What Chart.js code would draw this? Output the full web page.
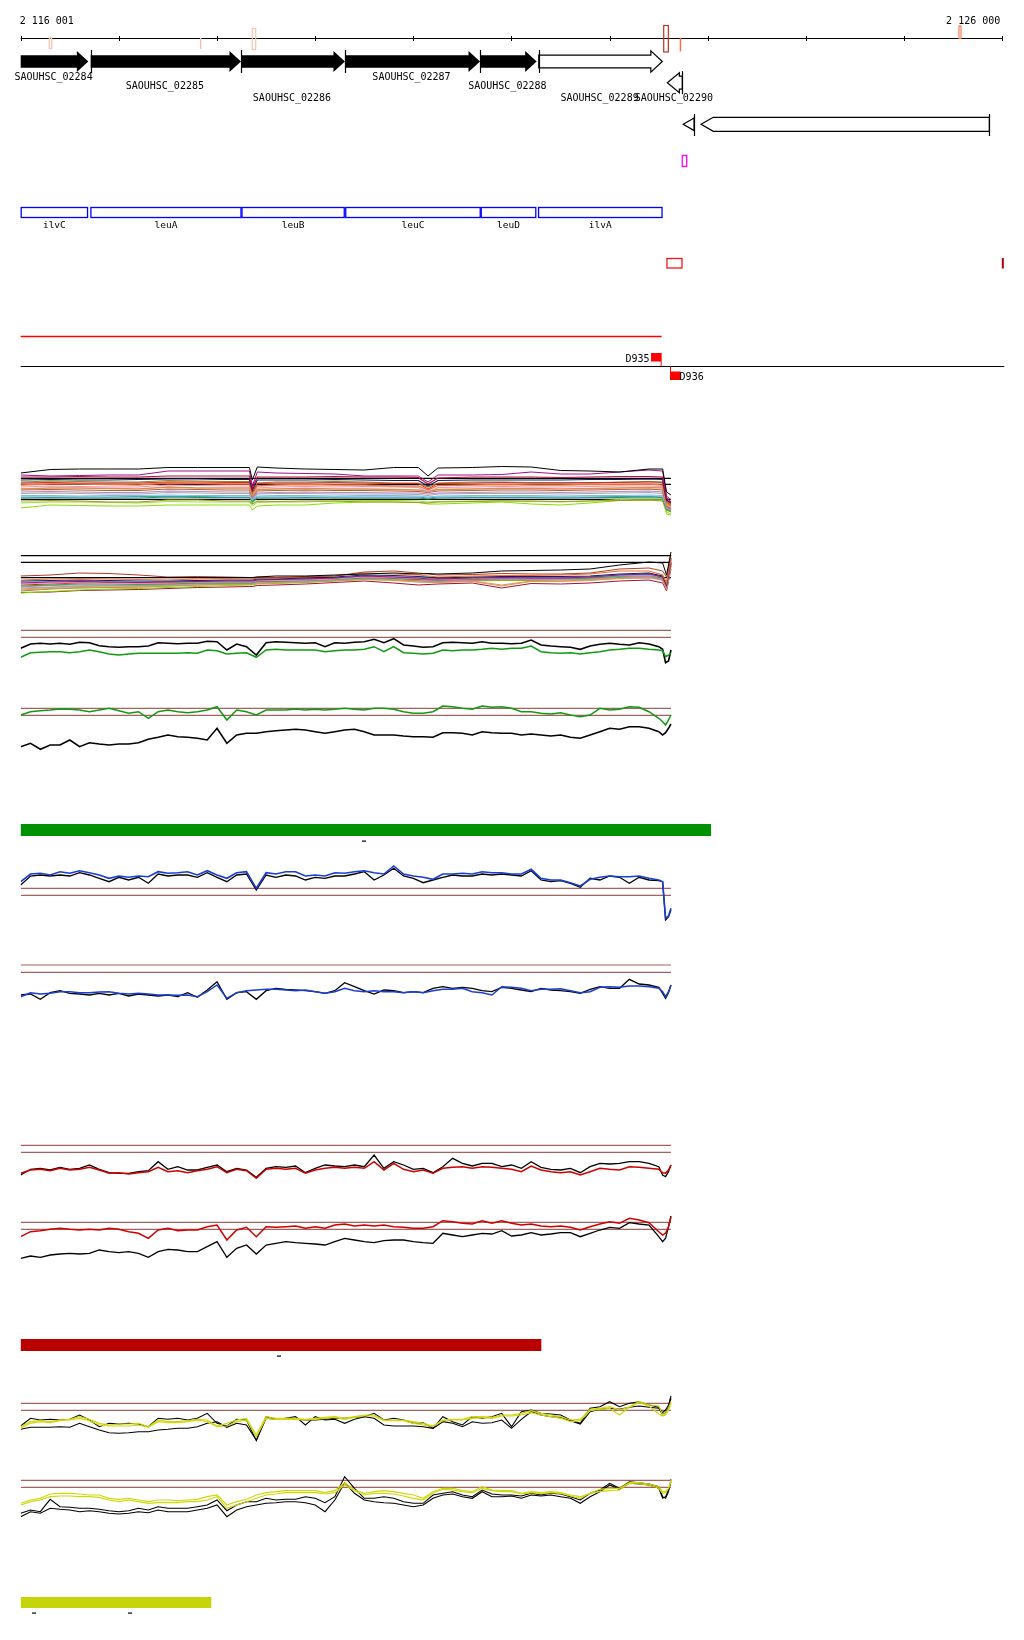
<!DOCTYPE html>
<html><head><meta charset="utf-8">
<script src="https://cdn.jsdelivr.net/npm/chart.js@4.4.1/dist/chart.umd.min.js"></script>
<style>
html,body{margin:0;padding:0;background:#fff;}
#wrap{position:relative;width:1024px;height:1640px;overflow:hidden;background:#fff;}
#wrap canvas{position:absolute;left:0;}
</style></head><body><div id="wrap"></div>
<script>
// ---------------- DATA ----------------
const VIEW_START = 2116001, VIEW_END = 2126000;
const axisTicks = [2116001,2117000,2118000,2119000,2120000,2121000,2122000,2123000,2124000,2125000,2126000];
const axisLabels = ['2 116 001','2 126 000'];

const markStarts = [2116292,2117827,2118360,2122551,2122714,2125559];
const markEnds   = [2116317,2117830,2118395,2122598,2122722,2125579];

const geneNames  = ['SAOUHSC_02284','SAOUHSC_02285','SAOUHSC_02286','SAOUHSC_02287','SAOUHSC_02288','SAOUHSC_02289','SAOUHSC_02290'];
const geneStarts = [2116001,2116714,2118245,2119304,2120680,2121278,2122588];
const geneEnds   = [2116690,2118245,2119304,2120680,2121257,2122537,2122740];
const geneStrands= [1,1,1,1,1,1,-1];

const otherGeneStarts = [2122750,2122931];
const otherGeneEnds   = [2122860,2125868];
const otherGeneStrands= [-1,-1];

const operonNames  = ['ilvC','leuA','leuB','leuC','leuD','ilvA'];
const operonStarts = [2116001,2116711,2118250,2119307,2120687,2121271];
const operonEnds   = [2116687,2118250,2119302,2120687,2121253,2122539];

const siteBoxStart = [2122584], siteBoxEnd = [2122737];
const edgeTick = [2125990];
const promoterBox = [2122740, 2122785];
const terminatorSpan = [2116001, 2122530];
const tssNames = ['D935','D936'];
const tssPositions = [2122530, 2122615];
const tssStrands = [1,-1];
const tssWidth = 108;

const greenBarSpan = [2116001, 2123030], greenBarDashes = [2119503];
const redBarSpan = [2116001, 2121301], redBarDashes = [2118632];
const yellowBarSpan = [2116001, 2117939], yellowBarDashes = [2116135, 2117110];

// sample positions for the signal tracks
const finePos = [2116001,2116101,2116201,2116301,2116401,2116501,2116601,2116701,2116801,2116901,
 2117001,2117101,2117201,2117301,2117401,2117501,2117601,2117701,2117801,2117901,
 2118001,2118101,2118201,2118301,2118401,2118501,2118601,2118701,2118801,2118901,
 2119001,2119101,2119201,2119301,2119401,2119501,2119601,2119701,2119801,2119901,
 2120001,2120101,2120201,2120301,2120401,2120501,2120601,2120701,2120801,2120901,
 2121001,2121101,2121201,2121301,2121401,2121501,2121601,2121701,2121801,2121901,
 2122001,2122101,2122201,2122301,2122401,2122501,2122540,2122570,2122600,2122625];
const bundlePos = [2116001,2116301,2116601,2116901,2117201,2117501,2117801,2118101,2118331,2118361,
 2118411,2118601,2118901,2119201,2119501,2119801,2120051,2120150,2120251,2120601,
 2120901,2121201,2121501,2121801,2122101,2122401,2122540,2122580,2122625];
const SIGNAL_END = 2122625;

// track 1 (bundle of samples)
const t1Thresholds = [41.7, 35.7, 20.7];
const t1Black  = [47,50.5,51,51,51,52.5,52.5,52.5,52.5,40,53,52,51,50.5,50,52.5,52.5,44,52,52.5,53.5,53,49.5,49,48,51,51,28,25];
const t1Purple = [45,44,44.5,45,45,49,49,49,49,34,48,47,46.5,46,44,44,44,38,45,45,45.5,48,46,46,48,50,49,24,20];
const t1DarkRed= [43,43,43.5,43,43,44,44,44,44,32,43,43,43,43.5,43,43,42.5,36,42,43,43,43,42.5,43,43.5,43.5,43,22,18];
const t1Navy   = [40,40.5,40,40,40.5,41,41,40.5,40.5,30,40,40,40,40.5,40,39.5,39.5,34,39.5,40,40,40,40,40.5,40.5,41,40.5,20,17];
const t1Olive  = [38,39,38.5,38,38,39.5,39,38.5,38.5,27,37,38,38,38.5,38,37,37,33,37,38,38,37.5,37.5,37,38,38.5,38,18,15];
const t1Orange = [35,36,36,35.5,35,37,36.5,36,36,26,34,35,35.5,35,35,34,34,30,34.5,35,35.5,35,35,35.5,35.5,36,35,17,14];
const t1Pink   = [33,34,33.5,33,33,35,34.5,34,34,25,32,33,33.5,33,33.5,33,32.5,28,32.5,33,33.5,33,33,33.5,34,34,33.5,16,13];
const t1Salmon = [31,32,32,31.5,31,33,32,32,32,24,30.5,31,31.5,31,31,30.5,30,28.5,30.5,31,31.5,31.5,31,31.5,32,32.5,32,15,12];
const t1Brown  = [30,30.5,30,29.5,29.5,31,30.5,30,30,23,29,29.5,30,29.5,29.5,29,28.5,27.5,29,29.5,30,30,29.5,30,30.5,31,30,14,11];
const t1LBlue  = [24.5,24.5,24,24.5,24.5,25,24.5,24.5,24.5,20,24,24.5,24.5,24,24.5,24.5,24,23,24,24.5,24.5,24.5,24,24.5,24.5,25,24.5,12,10];
const t1Violet = [28,28.5,28,27.5,27.5,29,28.5,28,28,22,27,27.5,28,27.5,27.5,27,27,26,27,27.5,28,28,27.5,28,28.5,29,28,13,10.5];
const t1Gray   = [26.5,27,26.5,26,26,27.5,27,26.5,26.5,21,26,26.5,26.5,26,26,26,25.5,24.5,26,26.5,26.5,26.5,26,26.5,27,27.5,26.5,12.5,10];
const t1Green  = [22,22.5,22,22,22,23,22.5,22.5,22.5,18,22,22,22.5,22,22,22,22,21,22,22.5,22.5,22.5,22,22.5,22.5,23,22.5,11,9];
const t1Olive2 = [19,19.5,19,18,18,20,20,19,19,16,19,18.5,19,19,18,18,17.5,17,18,18.5,19,19,18.5,19,19.5,20,19,10,8];
const t1Lime   = [12,15,14.5,14,14,15,15,15,15,10,14,15,15,17,18,18,17.5,16,16,17,18,16,15,17,19.5,20,20,6,5];
const t1Chart  = [17,18,18,17.5,17,18.5,18,18,18,14,17.5,18,18,19,19.5,19.5,19,18,18.5,19,19.5,18.5,18,19,20.5,21,21,8,6];
const t1Red    = [37,37.5,37,37,37,38,38,37.5,37.5,28,36.5,37,37,37.5,37,36.5,36.5,31,36.5,37,37.5,37,37,37.5,37.5,38,37.5,19,16];
const t1Sky    = [23,23,23,23,23.5,23.5,23.5,23,23,19,23,23,23,23,23,23,23,22,23,23,23,23,23,23,23.5,23.5,23,11.5,9.5];

// track 2 (bundle of samples)
const t2Thresholds = [49.3, 42.7, 27.3];
const t2Black  = [27.5,27.5,27.5,27.5,27.5,27.5,27.5,27.5,27.5,27.5,28,29,29,30,31,32,31,31.5,31,32,34,34.5,35,36,40,43,42,30,53];
const t2BrownRed=[29,30,32,31.5,30,28,28.5,28,27.5,27,28,27.5,28.5,29,33,34,32,31,30,30.5,31.5,31,31,32,36,37,34,28,50];
const t2Orange = [25,26,26.5,26,25.5,25,26,26.5,26,26,27,27,28,29,32,31,30,29,28,29,29.5,29.5,30,31,34,34,30,22,46];
const t2Purple = [22,23,23.5,23,22.5,23,23.5,24,24,24,25,25.5,26,27,29,28,27,26,26,27,27.5,27,27,28,30,31,28,20,42];
const t2Olive  = [14,16,17,17.5,18,19,20,21,21.5,21.5,22,22.5,23,24.5,26,25.5,24.5,24,23.5,24.5,25,25,25.5,26,28,29,26,18,40];
const t2Green  = [19,20,21,21,20.5,21,22,22,22,22,24,24,24.5,25.5,27,27,26,25.5,25,26,26.5,26.5,26.5,27,29,30,27,20,44];
const t2Pink   = [21,22,22.5,22,22,22,23,23,23,23,24.5,24.5,25,26,28,27.5,26.5,26,25.5,26.5,27,27,27,28,30,31,28,21,45];
const t2Navy   = [24,24.5,25,24.5,24,24,24.5,25,25,25,26,26,27,28,30,29.5,28.5,28,27,28,28.5,28.5,28.5,29,31,32,29,21,47];
const t2Salmon = [16,17.5,18.5,19,19,20,21,21.5,21.5,21.5,22.5,23,24,25,26.5,25,23,23.5,23,24,20,24,24,25,27,28,25,17,41];
const t2LBlue  = [23,23.5,23.5,23.5,23,23.5,24,24,24,24,25.5,25.5,26,27,28.5,28.5,27.5,27,26.5,27.5,28,28,28,28.5,29.5,30,28,21,44];
const t2Red    = [20,21,22,22.5,22,22,23,23,23,23,24,24,25,26.5,28,27,25.5,25.5,25,26,26.5,26.5,26.5,27.5,29.5,30.5,27,19,43];
const t2Violet = [18,19.5,20,20,20,21,21.5,22,22,22,23,23.5,24,25.5,27,26.5,25,24.5,24,25,25.5,25.5,25.5,26.5,28.5,29,26,18,42];
const t2Lime   = [12,13.5,15,16,16.5,17.5,18.5,19.5,20,20,21,21.5,22.5,24,25.5,25,24,23.5,23,24,24.5,24.5,25,25.5,27,28,25,17,39];
const t2Gray   = [17,18,19,19.5,19.5,20,21,21.5,21.5,21.5,22.5,23,23.5,25,26.5,26,25,24.5,24,25,25.5,25.5,25.5,26,28,29,26,18,41];
const t2Tan    = [15,16.5,17.5,18,18,19,20,20.5,20.5,20.5,21.5,22,23,24,25.5,24.5,23,22.5,22.5,23.5,19,23.5,23.5,24.5,26.5,27.5,24.5,16,40];
const t2DarkRed= [12.5,13,14.5,15,15.5,16.5,17.5,18,18.5,18.5,19.5,20,21,22.5,24,22,20,20.5,21,22,17,21.5,21,22,24,25,22,14,36];

// track 3
const t3Thresholds = [49.7, 42.7];
const t3Black = [31.7,36,36.7,36,36.7,35.7,37.7,37.3,34.3,33.3,32.7,33.3,33.3,34,37.3,36.7,36.3,36.7,36.7,38.7,38.3,30,36,33.3,25,37.3,38.3,37.7,37.3,36.7,37.3,33.3,37.3,36.7,37.7,38.3,40.7,37.3,41.3,35,34,32.7,33.3,37.3,37.7,37.3,36.7,38.3,36.7,36.7,36.3,36.7,40,35,34,33.3,32.7,30.7,34,35.7,36.7,35.7,35,37.3,36,33.3,30.7,17.3,19,30];
const t3Green = [22.7,27.3,27.7,28.3,28.3,27.3,28.3,30,28.3,26,25,26,26.7,26.7,26.7,26.7,26.7,27.3,26.7,30,29.3,26,26.7,27.3,22.7,30,30.7,30,30,30,30,28.3,29.3,30,30,30.7,33.3,28.3,33.3,27.3,26.7,26,26.7,30,29.3,30,30,30.7,31.7,30.7,31.7,31.7,34,28.3,27.3,26.7,27.3,26,27.3,28.3,30,30.7,31.7,31.7,30.7,30,29.3,23.3,25,26.7];

// track 4
const t4Thresholds = [46.7, 39.7];
const t4Green = [40,43.3,44.3,45,46,45.7,45,43.3,45,46.7,44.3,41.7,43.3,36.7,43.3,45,43.3,42.3,43.3,45,48.3,35,45,43.3,40,45,45,45,46,45,45.7,45,45.7,46.7,45.7,45,46.7,46.7,45.7,43.3,41.7,41.7,43.3,49,48.3,46.7,45.7,49,47.7,48.3,46.7,43.3,43.3,41.7,41,42.3,40,38.3,40,46.7,45,45.7,48.3,47.7,43.3,36.7,33.3,30,35,40];
const t4Black = [8.3,11.7,5.7,10,10,15,8.3,12.3,11,10,11,11,12.3,15.7,17.7,20,18.3,17.7,16.7,15,26.7,11.7,20,21.7,21.7,23.3,24.3,25,25.7,25,23.3,21.7,23.3,25,25.7,23.3,20,20,20,19,18.3,18.3,17.7,22.3,22.3,21.7,20,23.3,22.3,21.7,21.7,20,21,20,19,20,17.7,16.7,20,23.3,26.7,25.7,28.3,28.3,26.7,23.3,20,22.3,26.7,31];

// track 5
const t5Thresholds = [41.7, 34.7];
const t5Blue  = [48.3,56,56.7,55,58.3,56.7,59.3,57.3,55,51.7,54,52.7,54,53.3,58.3,56.7,57.3,58.3,55,59.3,55,51.7,57.3,58.3,41.7,57.3,56,58.3,58.3,54,55,54,57.3,56.7,58.3,59.3,57.3,56,64,56,54,52.7,50.7,56,56,56.7,56,58.3,57.3,57.3,56,56,60.7,51.7,50,50,47.3,44,50.7,52.7,54,53.3,53.3,54,51.7,50,48.3,11.7,14,21.7];
const t5Black = [45,54,55,54,55,54,57.3,55,51.7,48.3,52.7,50,52.7,46.7,56,54,55,55,52.7,57.3,52.7,48.3,55,56,40,55,52.7,55,54,50,52.7,51.7,54,54,56,58.3,50,55,61.7,54,51.7,47.3,50,52.7,55,54,54,56,55,56,55,54,59.3,50,48.3,49.3,46.7,42.7,51.7,50,54,52.7,46.7,52.7,50,49.3,48.3,10,13.3,20];

// track 6
const t6Thresholds = [45, 37.7];
const t6Blue  = [13.3,17.3,16,16.7,18.3,18.3,17.3,17.3,18,18.3,16.7,16,16.7,16,15,15,14.7,15,13.3,18.3,25,11.7,17.3,19.3,20,20.7,20.7,20,19.3,20,18.3,16.7,18.3,21.7,19.3,18.3,19.3,18.3,18.3,17.3,18.3,17.3,19.3,20.7,20.7,21.7,18.3,17.3,15,23.3,22.7,21.7,19.3,20.7,20.7,21.3,19.3,17.3,18.3,22.7,23.3,22.7,24,24,23.3,21.7,18.3,13.3,18.3,25];
const t6Black = [15,16,10.7,17.3,19.3,16.7,16,15,16.7,15,16.7,14,16,15,14,15,13.3,17.3,12.7,20,28.3,10.7,17.3,18.3,10.7,19.3,21.7,20.7,20,19.3,18.3,16.7,19.3,27.3,23.3,19.3,16,20,19.3,17.3,18.3,17.3,21.7,23.3,21.7,22.7,21.7,19.3,18.3,22.7,21.7,20,18.3,21.7,20,19.3,18.3,16.7,20.7,23.3,21.7,21.7,30.7,26,25,22.7,16.7,11.7,17.3,25];

// track 7
const t7Thresholds = [44.7, 37.7];
const t7Red   = [16.7,20,20.7,19.3,21.7,20,20.7,22.7,20,16.7,17.3,16,17.3,18.3,22.7,18.3,19.3,17.3,19.3,20.7,23.3,17.3,20.7,19.3,11.7,20.7,21.7,20.7,21.7,16.7,20,21.7,22.7,21.7,22.7,21.7,28.3,20,26.7,20.7,18.3,20,16.7,21.7,22.7,23.3,21.7,23.3,22.7,21.7,20.7,18.3,24,20,18.3,17.3,18.3,15,18.3,21.7,20.7,20,23.3,22.7,21.7,20.7,17.3,16.7,20,25];
const t7Black = [15,20.7,21.7,20,22.7,20.7,21.7,25,20.7,17.3,16.7,16.7,18.3,19.3,28.3,20.7,23.3,20,20,22.7,25,18.3,21.7,20,12.7,21.7,23.3,22.7,24,17.3,21.7,25,24,23.3,25,23.3,35,21.7,28.3,25,20.7,21.7,17.3,23.3,31.7,26.7,24,26.7,26.7,23.3,25,21.7,28.3,22.7,20.7,20,21.7,17.3,23.3,26.7,26,26.7,28.3,28.3,26.7,23.3,15,13.3,18.3,25];

// track 8
const t8Thresholds = [47.7, 40.7];
const t8Red   = [33.3,38.3,39.3,40.7,41.7,40.7,40,40.7,40,41.7,40.7,38.3,36.7,31.7,40,41.7,39.3,40,40,43.3,45,30,40,42.7,33.3,43.3,42.7,43.3,44,41.7,43.3,41.7,45,46,44,45,44,45,43.3,42.7,41.7,41.7,43.3,49.3,48.3,46.7,46,49.3,46.7,49.3,46.7,45,46,44,43.3,44,42.7,40,43.3,46,48.3,46.7,51.7,50,47.3,38.3,35,36.7,43.3,52.7];
const t8Black = [11.7,14,12.7,15,16,16.7,16,16.7,20,18.3,17.3,18.3,16.7,12.7,18.3,20.7,20,18.3,18.3,23.3,28.3,12.7,21.7,25,16,25,26.7,28.3,27.3,26.7,26,25,28.3,31.7,30,28.3,27.3,29.3,30,30,28.3,27.3,26.7,36.7,35,33.3,35,36.7,36,39.3,34,35,37.3,35,36,37.3,37.3,33.3,36.7,40,42.7,41.7,47.3,46,45,33.3,28.3,31.7,43.3,54];

// track 9
const t9Thresholds = [51.7, 44.7];
const t9YellowA = [28.3,33.3,34.3,33.3,35,35.7,38.3,35.7,31.7,30,31,31,31.7,28.3,35,33.3,33.3,34.3,35.7,35,29,31.7,35,36.7,20,38.3,36.7,36.7,36.7,35.7,36.7,37.7,38.3,36.7,38.3,40,40,35,35,35,33.3,31.7,29,35,35.7,35.7,38.3,38.3,37.7,40,40,41.7,44.3,41.7,40,38.3,35,35.7,45.7,46.7,48.3,45,48.3,53.3,50,49,40,41.7,46.7,53.3];
const t9YellowB = [26.7,31.7,33.3,32.3,34.3,35,36.7,34.3,30,29,29,29,30,27.7,33.3,32.3,32.3,33.3,35,33.3,28.3,29,33.3,35,18.3,36.7,35.7,35.7,35.7,35,35.7,36.7,37.7,35.7,37.7,39,39,34.3,34.3,34.3,31.7,30,28.3,34.3,35,35,36.7,37.7,36.7,39,39,40,42.3,40,38.3,36.7,33.3,34.3,44.3,45.7,46.7,40,47.7,52.3,49,41,39,40,45,51.7];
const t9BlackA  = [29,36.7,35,35.7,35,35.7,40,35,28.3,31.7,31,31.7,31,28.3,36.7,35.7,36.7,35,36.7,41.7,31.7,29,35.7,35,14.3,38.3,35.7,36.7,38.3,30,38.3,35,35.7,31.7,35.7,38.3,41.7,35,36.7,35,31.7,32.3,26.7,38.3,33.3,30,38.3,36.7,38.3,41.7,28.3,43.3,45,41.7,41,40,35,31.7,46.7,48.3,53.3,48.3,51.7,53.3,50,47.7,42.3,45,50,59];
const t9BlackB  = [25.7,27.7,27.7,27.7,28.3,27.7,31.7,28.3,25,22.3,21.7,22.3,23.3,23.3,25,25.7,26.7,26.7,28.3,31.7,33.3,27.7,31.7,30,15,36.7,35.7,36.7,35.7,35,35,35.7,36.7,36.7,37.7,38.3,36.7,30,29,29,29,28.3,26.7,33.3,31.7,28.3,33.3,31.7,32.3,35,26.7,35.7,43.3,40,38.3,37.7,34.3,31,43.3,45.7,46.7,45.7,47.7,49,47.7,46.7,40,42.3,47.7,56.7];

// track 10
const t10Thresholds = [49.7, 42.7];
const t10YellowA = [26.7,30,31.7,36,36.7,36.7,36,35,35,31.7,30.7,31.7,30,28.3,30,30,29.3,30,30.7,33.3,35,25,28.3,30.7,35,37.3,38.3,39.3,39.3,39.3,39.3,37.3,39.3,47.3,40,36.7,38.3,39.3,38.3,36.7,35,31.7,38.3,41.7,41.7,39.3,38.3,43.3,40,39.3,39.3,36.7,38.3,37.3,38.3,37.3,35,33.3,36.7,40.7,41.7,41.7,47.3,47.3,46,43.3,38.3,38.3,41.7,50];
const t10YellowB = [25,28.3,30,33.3,34,34,33.3,33.3,32.7,30,28.3,30,28.3,26.7,27.3,27.3,27.3,28.3,28.3,30,33.3,21.7,25,28.3,31.7,35,36,37.3,37.3,37.3,37.3,36,37.3,45,39.3,35,36.7,36.7,36,34,31.7,30,36.7,40.7,40,38.3,37.3,41.7,39.3,38.3,38.3,36,37.3,36.7,37.3,36.7,34,31.7,36.7,38.3,39.3,40,46.7,46,45,41.7,36.7,37.3,41.7,48.3];
const t10BlackA  = [16.7,20,18.3,30.7,23.3,22.7,21.7,21.7,20.7,19.3,18.3,19.3,21.7,20,23.3,21.7,21.7,21.7,23.3,25,30,19.3,25,28.3,28.3,31.7,30,30.7,30.7,33.3,31.7,27.3,33.3,53.3,41.7,31.7,31.7,33.3,31.7,28.3,26.7,26.7,35,36.7,38.3,35,33.3,40,36,35,35,34,36.7,35,36.7,36,33.3,30,36.7,40,46.7,41.7,48.3,47.3,46,43.3,33.3,31.7,38.3,50.7];
const t10BlackB  = [13.3,18.3,16.7,21.7,20.7,20,18.3,19.3,18.3,16.7,16,16.7,18.3,17.3,20,18.3,18.3,18.3,20,21.7,25,13.3,20,23.3,25,26.7,27.3,28.3,28.3,27.3,25,18.3,30,47.3,36.7,30,28.3,27.3,26.7,25,23.3,25,31.7,35,36,33.3,31.7,38.3,33.3,33.3,34,31.7,35,34,35,33.3,31.7,26.7,33.3,38.3,45,40.7,46.7,46,45,41.7,31.7,33.3,40,48.3];

// ---------------- RENDERING ----------------
const PAD_L = 20.7, PAD_R = 21.7;
const FONT = '"DejaVu Sans Mono", "Liberation Mono", monospace';
const THR_COLOR = '#a4625e';
const wrap = document.getElementById('wrap');

function makeCanvas(top, height){
  const c = document.createElement('canvas');
  c.width = 1024; c.height = height;
  c.style.top = top + 'px'; c.style.width = '1024px'; c.style.height = height + 'px';
  wrap.appendChild(c);
  return c;
}
function baseOptions(height, pad){
  return {
    responsive:false, animation:false, devicePixelRatio:1, events:[],
    layout:{padding:Object.assign({left:PAD_L,right:PAD_R,top:0,bottom:0}, pad||{})},
    plugins:{legend:{display:false}, tooltip:{enabled:false}},
    scales:{
      x:{type:'linear', min:VIEW_START, max:VIEW_END, display:false},
      y:{type:'linear', min:0, max:height, display:false}
    }
  };
}
function lineTrack(top, height, series, thresholds, thrColor, thrWidth){
  const c = makeCanvas(top, height);
  const ds = [];
  series.forEach(s => {
    ds.push({data:s.pos.map((p,j)=>({x:p, y:s.values[j]})), borderColor:s.color,
      borderWidth:s.width||1, pointRadius:0, tension:0, fill:false});
  });
  (thresholds||[]).forEach(t => {
    ds.push({data:[{x:VIEW_START,y:t},{x:SIGNAL_END,y:t}], borderColor:thrColor||THR_COLOR,
      borderWidth:thrWidth||1.2, pointRadius:0, fill:false});
  });
  ds.forEach((d,i)=>{ d.order = i; });
  new Chart(c, {type:'line', data:{datasets:ds}, options:baseOptions(height)});
}

// ---- annotation panel ----
const annotPlugin = {
  id:'annot',
  afterDraw(chart){
    const ctx = chart.ctx, xs = chart.scales.x;
    const X = v => xs.getPixelForValue(v);
    ctx.save();
    ctx.lineWidth = 1; ctx.strokeStyle = '#000';
    const seg = (x1,y1,x2,y2) => { ctx.beginPath(); ctx.moveTo(x1,y1); ctx.lineTo(x2,y2); ctx.stroke(); };

    seg(X(VIEW_START), 38.5, X(VIEW_END), 38.5);
    axisTicks.forEach(t => { const x = Math.round(X(t)) + 0.5; seg(x, 36, x, 41); });
    ctx.font = '10px ' + FONT; ctx.fillStyle = '#000';
    ctx.textAlign = 'left'; ctx.fillText(axisLabels[0], X(VIEW_START) - 1, 24);
    ctx.textAlign = 'right'; ctx.fillText(axisLabels[1], X(VIEW_END) - 2, 24);

    const markStyle = [
      {c:'#f4c4b0', t:38, b:48.5, fill:false},
      {c:'#f4c4b0', t:38, b:49, fill:true},
      {c:'#f4c4b0', t:28.5, b:49.5, fill:false},
      {c:'#c03222', t:25.5, b:52, fill:false},
      {c:'#ff6a48', t:38, b:51.5, fill:true},
      {c:'#ff7a58', t:26, b:38.5, fill:false}
    ];
    markStarts.forEach((s,i) => {
      const st = markStyle[i]; const x1 = X(s), x2 = Math.max(X(markEnds[i]), x1 + 1.5);
      if (st.fill) { ctx.fillStyle = st.c; ctx.fillRect(x1, st.t, x2 - x1, st.b - st.t); }
      else { ctx.strokeStyle = st.c; ctx.lineWidth = 1.2; ctx.strokeRect(x1, st.t, x2 - x1, st.b - st.t); }
    });

    function gArrow(xa, xb, yc, strand, body, head, hl, solid){
      ctx.beginPath();
      if (strand > 0) {
        const h = Math.max(xa, xb - hl);
        ctx.moveTo(xa, yc - body); ctx.lineTo(h, yc - body); ctx.lineTo(h, yc - head); ctx.lineTo(xb, yc);
        ctx.lineTo(h, yc + head); ctx.lineTo(h, yc + body); ctx.lineTo(xa, yc + body); ctx.closePath();
      } else {
        const h = Math.min(xb, xa + hl);
        ctx.moveTo(xb, yc - body); ctx.lineTo(h, yc - body); ctx.lineTo(h, yc - head); ctx.lineTo(xa, yc);
        ctx.lineTo(h, yc + head); ctx.lineTo(h, yc + body); ctx.lineTo(xb, yc + body); ctx.closePath();
      }
      if (solid) { ctx.fillStyle = '#000'; ctx.fill(); }
      else { ctx.fillStyle = '#fff'; ctx.fill(); ctx.strokeStyle = '#000'; ctx.lineWidth = 1.2; ctx.stroke(); }
    }
    const geneSolid = [true,true,true,true,true,false,false];
    const geneRowY = [61.5,61.5,61.5,61.5,61.5,61.5,82.7];
    const labelY = [80,88.5,100.5,80,88.5,100.5,100.5];
    geneNames.forEach((n,i) => {
      const xa = X(geneStarts[i]), xb = X(geneEnds[i]), yc = geneRowY[i];
      if (i < 6) gArrow(xa, xb, yc, geneStrands[i], 6.3, 10.6, 11.5, geneSolid[i]);
      else gArrow(xa, xb, yc, geneStrands[i], 6.5, 10, 12, false);
      ctx.strokeStyle = '#000'; ctx.lineWidth = 1.2;
      const tx = geneStrands[i] > 0 ? xa : xb;
      if (geneStarts[i] > VIEW_START) seg(Math.round(tx) + 0.5, yc - 11.5, Math.round(tx) + 0.5, yc + 11.5);
    });
    ctx.fillStyle = '#000'; ctx.font = '10px ' + FONT; ctx.textAlign = 'center';
    geneNames.forEach((n,i) => {
      ctx.fillText(n, (X(geneStarts[i]) + X(geneEnds[i])) / 2 - 1, labelY[i]);
    });
    otherGeneStarts.forEach((s,i) => {
      const xa = X(s), xb = X(otherGeneEnds[i]);
      if (i === 0) gArrow(xa, xb, 124.3, otherGeneStrands[i], 6.3, 6.3, xb - xa, false);
      else gArrow(xa, xb, 124.3, otherGeneStrands[i], 7, 7, 12.3, false);
      ctx.strokeStyle = '#000'; ctx.lineWidth = 1.2;
      seg(Math.round(xb) + 0.5, 114, Math.round(xb) + 0.5, 136);
    });

    ctx.strokeStyle = '#ff00ff'; ctx.lineWidth = 1.3;
    ctx.strokeRect(X(promoterBox[0]), 155.5, X(promoterBox[1]) - X(promoterBox[0]), 11);

    ctx.strokeStyle = '#0000ff'; ctx.lineWidth = 1.3;
    ctx.font = '9.5px ' + FONT; ctx.fillStyle = '#000'; ctx.textAlign = 'center';
    operonNames.forEach((n,i) => {
      const x1 = X(operonStarts[i]), x2 = X(operonEnds[i]);
      ctx.strokeRect(x1 + 0.5, 207.5, x2 - x1 - 1, 10);
      ctx.fillText(n, (x1 + x2) / 2, 227.5);
    });

    ctx.strokeStyle = '#ff1010'; ctx.lineWidth = 1.3;
    ctx.strokeRect(X(siteBoxStart[0]), 258.5, X(siteBoxEnd[0]) - X(siteBoxStart[0]), 9.5);
    ctx.fillStyle = '#b00000';
    ctx.fillRect(X(edgeTick[0]) + 0.5, 258, 2, 10.5);

    ctx.strokeStyle = '#ff0000'; ctx.lineWidth = 1.3;
    seg(X(terminatorSpan[0]), 336.5, X(terminatorSpan[1]), 336.5);

    ctx.strokeStyle = '#000'; ctx.lineWidth = 1.2;
    seg(X(VIEW_START), 366.5, X(VIEW_END) + 2, 366.5);
    ctx.font = '10px ' + FONT;
    tssNames.forEach((n,i) => {
      const x = X(tssPositions[i]);
      const w = X(tssPositions[i] + tssWidth) - X(tssPositions[i]);
      ctx.fillStyle = '#ff0000'; ctx.strokeStyle = '#ff0000'; ctx.lineWidth = 1;
      if (tssStrands[i] > 0) {
        ctx.fillRect(x - w, 353, w, 8.5);
        seg(x - 0.5, 361, x - 0.5, 366);
        ctx.fillStyle = '#000'; ctx.textAlign = 'right'; ctx.fillText(n, x - w - 1.5, 361.5);
      } else {
        ctx.fillRect(x, 371.5, w, 8.5);
        seg(x + 0.5, 366.5, x + 0.5, 372);
        ctx.fillStyle = '#000'; ctx.textAlign = 'left'; ctx.fillText(n, x + w - 1, 380);
      }
    });
    ctx.restore();
  }
};
(function(){
  const c = makeCanvas(0, 400);
  new Chart(c, {type:'line', data:{datasets:[{data:[]}]}, options:baseOptions(400), plugins:[annotPlugin]});
})();

function barTrack(top, barH, span, color, dashes){
  const h = 4 + barH + 9;
  const c = makeCanvas(top, h);
  const opt = baseOptions(h, {top:4, bottom:9});
  opt.indexAxis = 'y';
  opt.scales.y = {type:'category', display:false};
  new Chart(c, {type:'bar',
    data:{labels:['r'], datasets:[{data:[[span[0], span[1]]], backgroundColor:color, borderWidth:0,
      barPercentage:1, categoryPercentage:1}]},
    options:opt,
    plugins:[{id:'dash', afterDraw(chart){
      const ctx = chart.ctx, xs = chart.scales.x;
      ctx.save(); ctx.fillStyle = '#000';
      dashes.forEach(d => { const x = xs.getPixelForValue(d); ctx.fillRect(Math.round(x - 2), chart.chartArea.bottom + 4.5, 4, 1.2); });
      ctx.restore();
    }}]
  });
}

const S = (pos, values, color, width) => ({pos, values, color, width});

lineTrack(455, 65, [
  S(bundlePos, t1Black, '#000000', 1), S(bundlePos, t1Purple, '#a0108c', 1),
  S(bundlePos, t1DarkRed, '#b8103c', 1.2), S(bundlePos, t1Navy, '#1c1c60', 1.2),
  S(bundlePos, t1Red, '#e02424', 1), S(bundlePos, t1Olive, '#8e8e1c', 1.2),
  S(bundlePos, t1Orange, '#e8743b', 1.3), S(bundlePos, t1Pink, '#ea92b4', 1.1),
  S(bundlePos, t1Salmon, '#dc8c56', 1.3), S(bundlePos, t1Brown, '#b0602a', 1.1),
  S(bundlePos, t1Violet, '#b486cc', 1.1), S(bundlePos, t1Gray, '#a8a8a8', 1.1),
  S(bundlePos, t1LBlue, '#7cbce4', 1.1), S(bundlePos, t1Sky, '#3a96e6', 1),
  S(bundlePos, t1Green, '#22a022', 1.2), S(bundlePos, t1Olive2, '#9a9a22', 1.1),
  S(bundlePos, t1Chart, '#96de30', 1), S(bundlePos, t1Lime, '#8cdc00', 1)
], t1Thresholds, '#000000', 1.3);

lineTrack(540, 65, [
  S(bundlePos, t2Black, '#000000', 1), S(bundlePos, t2BrownRed, '#b43a22', 1),
  S(bundlePos, t2Orange, '#e4722e', 1.2), S(bundlePos, t2Navy, '#1c1c60', 1.1),
  S(bundlePos, t2Purple, '#a0108c', 1.1), S(bundlePos, t2LBlue, '#80c0e8', 1.1),
  S(bundlePos, t2Pink, '#ea92b4', 1.1), S(bundlePos, t2Green, '#30b030', 1.1),
  S(bundlePos, t2Red, '#d82020', 1.1), S(bundlePos, t2Violet, '#b486cc', 1.1),
  S(bundlePos, t2Gray, '#a4a4a4', 1.1), S(bundlePos, t2Salmon, '#e8905a', 1.2),
  S(bundlePos, t2Tan, '#c8a060', 1.1), S(bundlePos, t2Olive, '#8e8e1c', 1.2),
  S(bundlePos, t2Lime, '#80d800', 1), S(bundlePos, t2DarkRed, '#a8102c', 1)
], t2Thresholds, '#000000', 1.3);

lineTrack(620, 60, [S(finePos, t3Green, '#119a11', 1.5), S(finePos, t3Black, '#000', 1.6)], t3Thresholds);
lineTrack(695, 60, [S(finePos, t4Green, '#119a11', 1.5), S(finePos, t4Black, '#000', 1.6)], t4Thresholds);

barTrack(820, 12, greenBarSpan, '#009100', greenBarDashes);

lineTrack(855, 75, [S(finePos, t5Blue, '#1a3ed4', 1.6), S(finePos, t5Black, '#000', 1.3)], t5Thresholds);
lineTrack(955, 55, [S(finePos, t6Blue, '#1a3ed4', 1.5), S(finePos, t6Black, '#000', 1.3)], t6Thresholds);

lineTrack(1135, 55, [S(finePos, t7Red, '#d00000', 1.5), S(finePos, t7Black, '#000', 1.3)], t7Thresholds);
lineTrack(1205, 65, [S(finePos, t8Red, '#d00000', 1.5), S(finePos, t8Black, '#000', 1.3)], t8Thresholds);

barTrack(1335, 12, redBarSpan, '#bb0000', redBarDashes);

lineTrack(1390, 65, [S(finePos, t9YellowA, '#cfd80c', 1.2), S(finePos, t9YellowB, '#cfd80c', 1.2),
  S(finePos, t9BlackA, '#000', 1.1), S(finePos, t9BlackB, '#000', 1.1)], t9Thresholds);
lineTrack(1468, 62, [S(finePos, t10YellowA, '#cfd80c', 1.2), S(finePos, t10YellowB, '#cfd80c', 1.2),
  S(finePos, t10BlackA, '#000', 1.1), S(finePos, t10BlackB, '#000', 1.1)], t10Thresholds);

barTrack(1593, 11, yellowBarSpan, '#c6d40a', yellowBarDashes);
</script></body></html>
